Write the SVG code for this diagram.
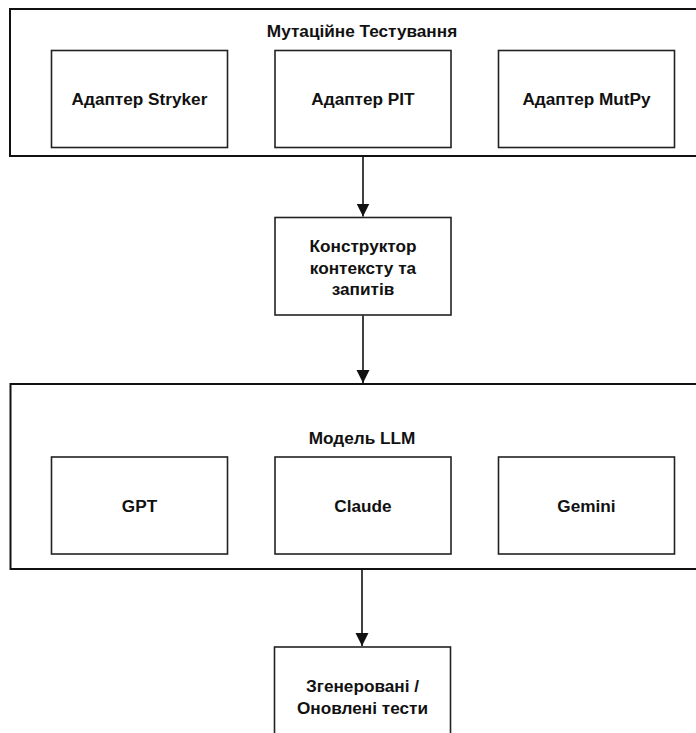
<svg xmlns="http://www.w3.org/2000/svg" width="696" height="733" viewBox="0 0 696 733">
<style>
.outer{fill:#fff;stroke:#111;stroke-width:2}
.box{fill:#fff;stroke:#222;stroke-width:1.6}
.t{font-family:"Liberation Sans",Arial,sans-serif;font-weight:bold;font-size:17.2px;fill:#111;text-anchor:middle}
.edge{stroke:#111;stroke-width:1.6;fill:none}
</style>
<defs>
<marker id="ah" markerUnits="userSpaceOnUse" markerWidth="14" markerHeight="14" refX="13" refY="7" orient="auto">
<path d="M0,0.5 L13,7 L0,13.5 Z" fill="#111"/>
</marker>
</defs>
<rect width="696" height="733" fill="#fff"/>
<g id="mutation">
<rect class="outer" x="10" y="9" width="705" height="147"/>
<text class="t" x="362" y="36.5">Мутаційне Тестування</text>
</g>
<g id="stryker">
<rect class="box" x="51.5" y="50.5" width="176" height="97"/>
<text class="t" x="139.5" y="105">Адаптер Stryker</text>
</g>
<g id="pit">
<rect class="box" x="275" y="50.5" width="176" height="97"/>
<text class="t" x="363" y="105">Адаптер PIT</text>
</g>
<g id="mutpy">
<rect class="box" x="498.5" y="50.5" width="176" height="97"/>
<text class="t" x="586.5" y="105">Адаптер MutPy</text>
</g>
<g id="constructor">
<rect class="box" x="275" y="217.5" width="176" height="97.5"/>
<text class="t" x="363" y="252">Конструктор</text>
<text class="t" x="363" y="273.5">контексту та</text>
<text class="t" x="363" y="295">запитів</text>
</g>
<g id="llm">
<rect class="outer" x="10.5" y="384" width="705" height="185"/>
<text class="t" x="362" y="444">Модель LLM</text>
</g>
<g id="gpt">
<rect class="box" x="51.5" y="457" width="176" height="97"/>
<text class="t" x="139.5" y="511.5">GPT</text>
</g>
<g id="claude">
<rect class="box" x="275" y="457" width="176" height="97"/>
<text class="t" x="363" y="511.5">Claude</text>
</g>
<g id="gemini">
<rect class="box" x="498.5" y="457" width="176" height="97"/>
<text class="t" x="586.5" y="511.5">Gemini</text>
</g>
<g id="output">
<rect class="box" x="274.5" y="647" width="176" height="100"/>
<text class="t" x="362.5" y="692">Згенеровані /</text>
<text class="t" x="362.5" y="714">Оновлені тести</text>
</g>
<g id="connectors">
<line class="edge" x1="363" y1="157" x2="363" y2="216.5" marker-end="url(#ah)"/>
<line class="edge" x1="363" y1="315.5" x2="363" y2="383" marker-end="url(#ah)"/>
<line class="edge" x1="362" y1="570" x2="362" y2="646" marker-end="url(#ah)"/>
</g>
</svg>
